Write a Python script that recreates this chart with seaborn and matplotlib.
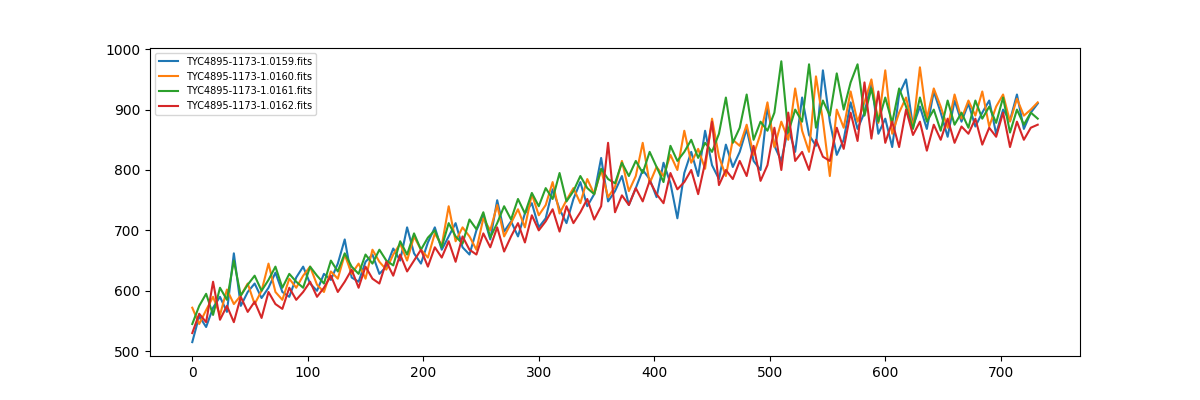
import numpy as np
import matplotlib
matplotlib.use("Agg")
import matplotlib.pyplot as plt
import seaborn as sns

# sampled every 6 pixels along the spectrum
step = 6

labels = ["TYC4895-1173-1.0159.fits", "TYC4895-1173-1.0160.fits",
          "TYC4895-1173-1.0161.fits", "TYC4895-1173-1.0162.fits"]

flux_0159 = [515, 558, 540, 572, 590, 565, 662, 575, 598, 612, 588, 605, 630, 598, 590, 622,
             640, 612, 600, 628, 618, 645, 685, 622, 615, 648, 660, 628, 640, 670, 650, 705,
             662, 645, 680, 705, 668, 690, 712, 672, 660, 700, 725, 685, 750, 698, 715, 690,
             728, 745, 705, 720, 768, 735, 712, 752, 780, 740, 760, 820, 748, 765, 790, 742,
             770, 800, 785, 755, 812, 778, 720, 795, 830, 790, 865, 808, 785, 842, 805, 830,
             868, 815, 800, 905, 840, 815, 870, 830, 920, 858, 840, 965, 880, 825, 850, 912,
             868, 895, 945, 860, 885, 838, 925, 950, 872, 905, 868, 930, 895, 855, 915, 880,
             910, 872, 895, 915, 860, 900, 882, 925, 868, 895, 910]

flux_0160 = [572, 545, 568, 590, 560, 602, 578, 592, 612, 578, 600, 645, 598, 585, 620, 605,
             625, 640, 610, 598, 632, 620, 660, 628, 645, 620, 668, 648, 635, 660, 678, 650,
             690, 668, 655, 695, 675, 740, 682, 705, 690, 668, 720, 700, 742, 690, 712, 735,
             705, 760, 725, 742, 780, 728, 750, 770, 745, 785, 760, 800, 755, 772, 815, 765,
             790, 845, 778, 805, 790, 825, 800, 865, 812, 835, 802, 885, 822, 790, 850, 840,
             875, 825, 860, 912, 838, 880, 850, 935, 865, 830, 955, 882, 790, 900, 870, 930,
             880, 912, 950, 878, 965, 860, 895, 920, 870, 970, 885, 935, 905, 870, 925, 885,
             915, 890, 930, 872, 905, 925, 880, 918, 890, 900, 912]

flux_0161 = [545, 575, 595, 560, 605, 585, 650, 592, 610, 625, 600, 618, 640, 605, 628, 615,
             605, 640, 625, 612, 650, 632, 662, 640, 628, 660, 645, 668, 650, 642, 682, 660,
             695, 668, 688, 700, 672, 712, 690, 678, 718, 702, 730, 688, 712, 740, 718, 752,
             728, 762, 740, 770, 752, 795, 748, 765, 790, 770, 760, 802, 785, 778, 812, 790,
             815, 795, 830, 805, 780, 840, 815, 830, 850, 820, 845, 830, 860, 920, 845, 870,
             925, 850, 880, 865, 895, 980, 862, 900, 880, 975, 870, 915, 890, 960, 900, 945,
             975, 890, 935, 880, 920, 878, 935, 905, 868, 920, 880, 900, 865, 915, 875, 895,
             870, 915, 885, 905, 878, 920, 862, 900, 875, 895, 885]

flux_0162 = [530, 562, 548, 615, 552, 575, 548, 590, 565, 582, 555, 598, 578, 570, 605, 585,
             598, 615, 590, 605, 625, 598, 615, 635, 605, 640, 620, 612, 648, 625, 660, 632,
             650, 668, 640, 672, 655, 682, 648, 690, 668, 660, 695, 672, 705, 665, 690, 712,
             680, 725, 700, 715, 735, 698, 740, 712, 730, 752, 718, 740, 845, 730, 758, 742,
             770, 748, 782, 760, 745, 795, 768, 780, 800, 760, 812, 880, 775, 800, 785, 815,
             790, 840, 782, 808, 870, 800, 895, 815, 830, 800, 850, 822, 815, 870, 835, 895,
             848, 945, 852, 930, 845, 880, 838, 900, 858, 880, 832, 875, 850, 885, 845, 872,
             860, 885, 842, 870, 855, 895, 838, 880, 850, 870, 875]

series = [flux_0159, flux_0160, flux_0161, flux_0162]
colors = sns.color_palette("tab10", 4)

fig, ax = plt.subplots(figsize=(12, 4), dpi=100)
for vals, lab, c in zip(series, labels, colors):
    x = np.arange(len(vals)) * step
    sns.lineplot(x=x, y=vals, label=lab, color=c, linewidth=1.5, ax=ax)

ax.set_ylim(492, 1002)
ax.set_yticks([500, 600, 700, 800, 900, 1000])
ax.set_xticks([0, 100, 200, 300, 400, 500, 600, 700])
ax.legend(loc="upper left", fontsize=7)
fig.savefig("out.png")
